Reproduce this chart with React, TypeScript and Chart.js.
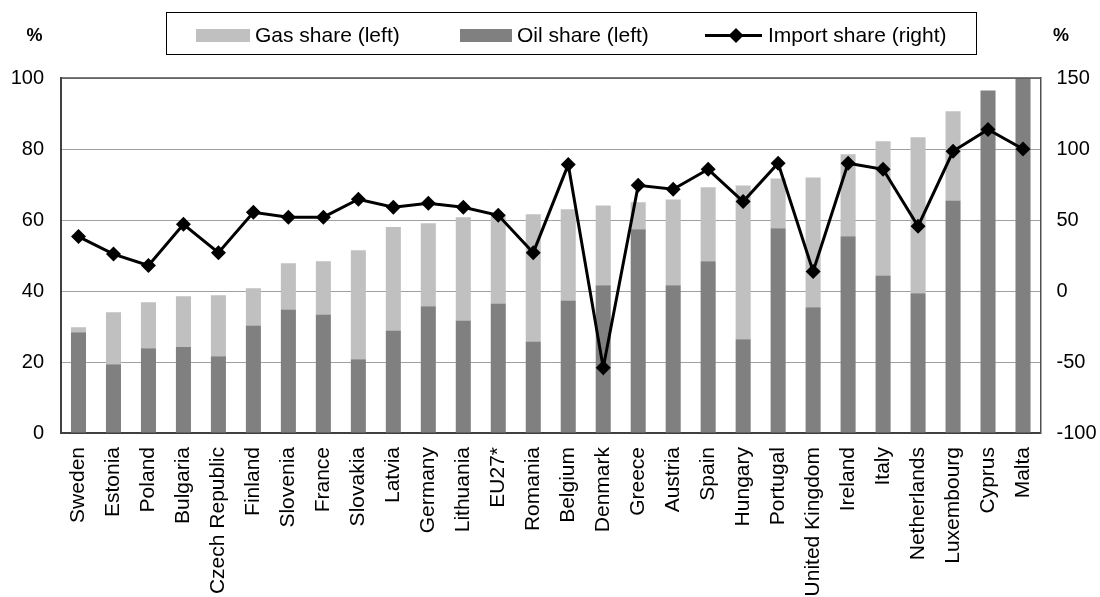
import React, { useEffect, useRef } from "react";
import { Chart, registerables } from "chart.js";

Chart.register(...registerables);

const categories = [
  "Sweden", "Estonia", "Poland", "Bulgaria", "Czech Republic", "Finland", "Slovenia",
  "France", "Slovakia", "Latvia", "Germany", "Lithuania", "EU27*", "Romania", "Belgium",
  "Denmark", "Greece", "Austria", "Spain", "Hungary", "Portugal", "United Kingdom",
  "Ireland", "Italy", "Netherlands", "Luxembourg", "Cyprus", "Malta",
];

const oilShare = [
  28.4, 19.4, 23.9, 24.2, 21.6, 30.3, 34.8, 33.4, 20.8, 28.9, 35.7, 31.7, 36.5, 25.8,
  37.3, 41.6, 57.4, 41.6, 48.4, 26.4, 57.7, 35.4, 55.4, 44.4, 39.4, 65.5, 96.5, 100,
];

const gasShare = [
  1.4, 14.6, 12.9, 14.3, 17.2, 10.5, 13.0, 15.0, 30.7, 29.1, 23.4, 29.1, 24.8, 35.8,
  25.7, 22.5, 7.6, 24.2, 20.8, 43.3, 14.0, 36.6, 23.1, 37.8, 43.9, 25.1, 0, 0,
];

const importShare = [
  38.3, 26, 18, 47, 27, 55.4, 52, 52, 64.6, 59, 61.8, 59, 53.3, 27, 89, -54, 74.4,
  71.6, 85.7, 63, 90, 13.8, 90, 85.7, 45.6, 98.4, 113.8, 100,
];

const leftTicks = [0, 20, 40, 60, 80, 100];
const rightTicks = [-100, -50, 0, 50, 100, 150];

const legendLabels = ["Gas share (left)", "Oil share (left)", "Import share (right)"];

const FONT = "'Liberation Sans', Arial, sans-serif";
const GAS = "#c0c0c0";
const OIL = "#808080";

const decorPlugin = {
  id: "decor",
  afterDraw(chart: any) {
    const ctx = chart.ctx;
    const a = chart.chartArea;
    ctx.save();
    ctx.strokeStyle = "#505050";
    ctx.lineWidth = 1.5;
    ctx.beginPath();
    ctx.moveTo(a.left, a.top);
    ctx.lineTo(a.right, a.top);
    ctx.stroke();

    // legend box
    ctx.strokeStyle = "#000";
    ctx.lineWidth = 1;
    ctx.strokeRect(166.5, 12.5, 810, 42);
    ctx.font = `21px ${FONT}`;
    ctx.textBaseline = "alphabetic";
    ctx.textAlign = "left";
    ctx.fillStyle = GAS;
    ctx.fillRect(196, 29, 54, 13);
    ctx.fillStyle = "#000";
    ctx.fillText(legendLabels[0], 255, 42);
    ctx.fillStyle = OIL;
    ctx.fillRect(460, 29, 52, 13);
    ctx.fillStyle = "#000";
    ctx.fillText(legendLabels[1], 517, 42);
    ctx.strokeStyle = "#000";
    ctx.lineWidth = 3;
    ctx.beginPath();
    ctx.moveTo(705, 35.5);
    ctx.lineTo(762, 35.5);
    ctx.stroke();
    ctx.beginPath();
    ctx.moveTo(736 - 7.5, 35.5);
    ctx.lineTo(736, 28);
    ctx.lineTo(736 + 7.5, 35.5);
    ctx.lineTo(736, 43);
    ctx.closePath();
    ctx.fill();
    ctx.fillText(legendLabels[2], 768, 42);

    ctx.font = `bold 18px ${FONT}`;
    ctx.textAlign = "center";
    ctx.fillText("%", 34.5, 41);
    ctx.fillText("%", 1061, 41);
    ctx.restore();
  },
};

export default function App() {
  const ref = useRef<HTMLCanvasElement | null>(null);

  useEffect(() => {
    if (!ref.current) return;
    const chart = new Chart(ref.current, {
      type: "bar",
      data: {
        labels: categories,
        datasets: [
          {
            type: "line",
            label: legendLabels[2],
            data: importShare,
            yAxisID: "y1",
            borderColor: "#000",
            backgroundColor: "#000",
            borderWidth: 3,
            pointStyle: "rectRot",
            pointRadius: 7.5,
            pointBorderWidth: 0,
            pointBackgroundColor: "#000",
            tension: 0,
            order: 0,
            clip: false,
          } as any,
          {
            type: "bar",
            label: legendLabels[1],
            data: oilShare,
            backgroundColor: OIL,
            yAxisID: "y",
            stack: "s",
            barPercentage: 0.43,
            categoryPercentage: 1,
            order: 1,
          },
          {
            type: "bar",
            label: legendLabels[0],
            data: gasShare,
            backgroundColor: GAS,
            yAxisID: "y",
            stack: "s",
            barPercentage: 0.43,
            categoryPercentage: 1,
            order: 1,
          },
        ],
      },
      options: {
        animation: false,
        responsive: true,
        maintainAspectRatio: false,
        layout: { padding: { top: 78, left: 0, right: 0, bottom: 0 } },
        plugins: {
          legend: { display: false },
          tooltip: { enabled: false },
        },
        scales: {
          x: {
            stacked: true,
            offset: true,
            grid: { display: false, drawTicks: false },
            border: { display: true, color: "#404040", width: 2 },
            ticks: {
              autoSkip: false,
              minRotation: 90,
              maxRotation: 90,
              padding: 14,
              color: "#000",
              font: { family: FONT, size: 21 },
            },
            afterFit(scale: any) {
              scale.height = 164;
            },
          },
          y: {
            stacked: true,
            position: "left",
            min: 0,
            max: 100,
            afterBuildTicks(scale: any) {
              scale.ticks = leftTicks.map((v) => ({ value: v }));
            },
            grid: { color: "#a0a0a0", lineWidth: 1, drawTicks: false },
            border: { display: true, color: "#404040", width: 2 },
            ticks: {
              padding: 17,
              color: "#000",
              font: { family: FONT, size: 20 },
            },
            afterFit(scale: any) {
              scale.width = 61;
            },
          },
          y1: {
            position: "right",
            min: -100,
            max: 150,
            afterBuildTicks(scale: any) {
              scale.ticks = rightTicks.map((v) => ({ value: v }));
            },
            grid: { drawOnChartArea: false, drawTicks: false },
            border: { display: true, color: "#505050", width: 1.5 },
            ticks: {
              padding: 16,
              color: "#000",
              font: { family: FONT, size: 20 },
            },
            afterFit(scale: any) {
              scale.width = 59.5;
            },
          },
        },
      },
      plugins: [decorPlugin],
    });
    return () => chart.destroy();
  }, []);

  return (
    <div style={{ position: "absolute", left: 0, top: 0, width: 1100, height: 597, background: "#fff" }}>
      <canvas ref={ref} />
    </div>
  );
}
